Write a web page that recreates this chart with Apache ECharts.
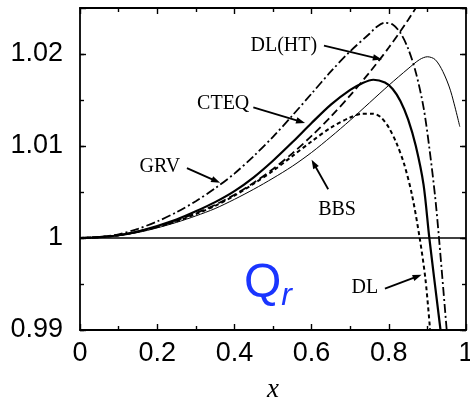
<!DOCTYPE html>
<html><head><meta charset="utf-8">
<script src="https://cdn.jsdelivr.net/npm/echarts@6/dist/echarts.min.js"></script>
<style>html,body{margin:0;padding:0;background:#fff}#c{width:470px;height:397px}</style>
</head><body><div id="c"></div>
<script>
// ---- data ----
const xTickLabels = ['0','0.2','0.4','0.6','0.8','1'];
const yTickLabels = ['0.99','1','1.01','1.02'];

const grvX  = [0,0.05,0.1,0.15,0.2,0.25,0.3,0.35,0.4,0.45,0.5,0.55,0.6,0.65,0.7,0.75,0.77,0.79,0.81,0.83,0.85,0.87,0.89,0.905,0.92,0.93,0.95];
const grvY  = [1,1.0001,1.0004,1.001,1.0018,1.0028,1.004,1.0054,1.007,1.0089,1.011,1.0133,1.0157,1.0181,1.0203,1.0222,1.023,1.0234,1.0232,1.0223,1.0206,1.018,1.0142,1.0098,1.0045,1.0,0.99];

const cteqX = [0,0.05,0.1,0.15,0.2,0.25,0.3,0.35,0.4,0.45,0.5,0.55,0.6,0.65,0.7,0.73,0.76,0.79,0.81,0.83,0.85,0.87,0.89,0.905,0.934];
const cteqY = [1,1.0001,1.0003,1.0007,1.0013,1.002,1.0029,1.0039,1.0051,1.0066,1.0084,1.0104,1.0125,1.0145,1.0161,1.0168,1.0172,1.0169,1.0162,1.0149,1.0129,1.01,1.0058,1.0,0.99];

const dlhtX = [0,0.05,0.1,0.15,0.2,0.25,0.3,0.35,0.4,0.45,0.5,0.55,0.6,0.65,0.7,0.75,0.8,0.85,0.9];
const dlhtY = [1,1.0001,1.0003,1.0007,1.0012,1.0019,1.0027,1.0036,1.0047,1.006,1.0075,1.0092,1.0111,1.0132,1.0155,1.018,1.0207,1.0237,1.027];

const dlX   = [0,0.05,0.1,0.15,0.2,0.25,0.3,0.35,0.4,0.45,0.5,0.55,0.6,0.65,0.7,0.73,0.76,0.78,0.8,0.82,0.84,0.86,0.88,0.895,0.907];
const dlY   = [1,1.0001,1.0003,1.0007,1.0012,1.0018,1.0026,1.0035,1.0046,1.0059,1.0073,1.0089,1.0105,1.012,1.0131,1.0135,1.0135,1.0131,1.012,1.0103,1.008,1.0047,1.0,0.9955,0.99];

const bbsX  = [0,0.05,0.1,0.15,0.2,0.25,0.3,0.35,0.4,0.45,0.5,0.55,0.6,0.65,0.7,0.75,0.8,0.85,0.88,0.9,0.92,0.94,0.96,0.984];
const bbsY  = [1,1.0001,1.0003,1.0006,1.0011,1.0017,1.0024,1.0032,1.0042,1.0053,1.0065,1.0078,1.0093,1.011,1.0128,1.0147,1.0166,1.0184,1.0194,1.0197,1.0194,1.0181,1.016,1.0121];

const refX = [0,1];
const refY = [1,1];

// annotations: label, text anchor (data), arrow from, arrow tip (data)
const notes = [
  {t:'DL(HT)', tx:0.528, ty:1.0209, fx:0.632, fy:1.0209, px:0.782, py:1.0194},
  {t:'CTEQ',   tx:0.371, ty:1.0146, fx:0.449, fy:1.0142, px:0.583, py:1.0125},
  {t:'GRV',    tx:0.207, ty:1.0077, fx:0.277, fy:1.0076, px:0.363, py:1.0060},
  {t:'BBS',    tx:0.666, ty:1.0031, fx:0.643, fy:1.0053, px:0.600, py:1.0085},
  {t:'DL',     tx:0.738, ty:0.9946, fx:0.790, fy:0.9945, px:0.885, py:0.9960}
];

const zip = (xs, ys) => xs.map((x,i)=>[x, ys[i]]);
const chart = echarts.init(document.getElementById('c'), null, {renderer:'canvas'});

const tickFont = {fontFamily:'Liberation Sans, Arial, sans-serif', fontSize:27, color:'#000'};

function xAx(pos, show){
  return {type:'value', min:0, max:1, interval:0.2, position:pos,
    axisLine:{show:true, onZero:false, lineStyle:{color:'#000', width:1.8}},
    axisTick:{show:true, inside:true, length:6, lineStyle:{color:'#000', width:1.4}},
    minorTick:{show:true, splitNumber:2, length:4, lineStyle:{color:'#000', width:1.4}},
    splitLine:{show:false}, minorSplitLine:{show:false},
    axisLabel:{show:show, margin:10, ...tickFont, hideOverlap:false,
      formatter: v => { const s = xTickLabels.find(l => Math.abs(parseFloat(l)-v)<1e-9); return s===undefined?'':s; }},
    name: show ? 'x' : '', nameLocation:'middle', nameGap:46,
    nameTextStyle:{fontFamily:'Liberation Serif, Times New Roman, serif', fontStyle:'italic', fontSize:27, color:'#000'}
  };
}
function yAx(pos, show, interval, len, line){
  return {type:'value', min:0.99, max:1.025, interval:interval, position:pos,
    axisLine:{show:line, onZero:false, lineStyle:{color:'#000', width:1.8}},
    axisTick:{show:true, inside:true, length:len, lineStyle:{color:'#000', width:1.4}},
    splitLine:{show:false},
    axisLabel:{show:show, margin:17, ...tickFont, showMaxLabel:false, hideOverlap:false,
      formatter: v => { const s = yTickLabels.find(l => Math.abs(parseFloat(l)-v)<1e-9); return s===undefined?'':s; }}
  };
}

const lineS = (name, xs, ys, style) => ({
  name, type:'line', data: zip(xs, ys), showSymbol:false, symbol:'none',
  smooth:0.3, clip:true, xAxisIndex:0, yAxisIndex:0,
  lineStyle:Object.assign({color:'#000'}, style), silent:true, z:3
});

chart.setOption({
  animation:false,
  backgroundColor:'#fff',
  grid:{left:80, right:4, top:8, bottom:67, show:false, containLabel:false, outerBoundsMode:'none'},
  xAxis:[xAx('bottom', true), xAx('top', false)],
  yAxis:[yAx('left', true, 0.005, 4, true), yAx('right', false, 0.005, 4, true),
         yAx('left', false, 0.01, 6, false), yAx('right', false, 0.01, 6, false)],
  series:[
    {type:'line', data:zip(refX, refY), showSymbol:false, lineStyle:{color:'#000', width:1.5}, silent:true, z:2},
    lineS('GRV', grvX, grvY, {width:1.8, type:[9,3,2,3]}),
    lineS('CTEQ', cteqX, cteqY, {width:2.2, type:'solid'}),
    lineS('DL(HT)', dlhtX, dlhtY, {width:1.8, type:[8,4]}),
    lineS('DL', dlX, dlY, {width:2.0, type:[4,3]}),
    lineS('BBS', bbsX, bbsY, {width:1.0, type:'solid'})
  ]
});

// annotations, placed through the chart's own coordinate conversion
const P = (x,y) => chart.convertToPixel({gridIndex:0}, [x,y]);
const g = [];
notes.forEach(n => {
  const tp = P(n.tx, n.ty), a = P(n.fx, n.fy), b = P(n.px, n.py);
  g.push({type:'text', x:tp[0], y:tp[1], style:{text:n.t, fill:'#000', font:'20px "Liberation Serif", "Times New Roman", serif', textAlign:'center', textVerticalAlign:'middle'}, z:10});
  const dx=b[0]-a[0], dy=b[1]-a[1], L=Math.hypot(dx,dy), ux=dx/L, uy=dy/L;
  const hl=9, hw=3.2;
  const base=[b[0]-ux*hl, b[1]-uy*hl];
  g.push({type:'line', shape:{x1:a[0], y1:a[1], x2:base[0]+ux*1, y2:base[1]+uy*1}, style:{stroke:'#000', lineWidth:1.8}, z:10});
  g.push({type:'polygon', shape:{points:[[b[0],b[1]],[base[0]-uy*hw, base[1]+ux*hw],[base[0]+uy*hw, base[1]-ux*hw]]}, style:{fill:'#000'}, z:10});
});
const q = P(0.487, 0.9950);
g.push({type:'text', x:q[0], y:q[1], style:{
  text:'{q|Q}{r|r}', textAlign:'center', textVerticalAlign:'middle',
  rich:{q:{fontFamily:'Liberation Sans, Arial, sans-serif', fontSize:48, fill:'#1a35ff', verticalAlign:'bottom'},
        r:{fontFamily:'Liberation Sans, Arial, sans-serif', fontStyle:'italic', fontSize:32, fill:'#1a35ff', verticalAlign:'bottom', padding:[0,0,-4,0]}}
}, z:10});
chart.setOption({graphic:g});
</script></body></html>
